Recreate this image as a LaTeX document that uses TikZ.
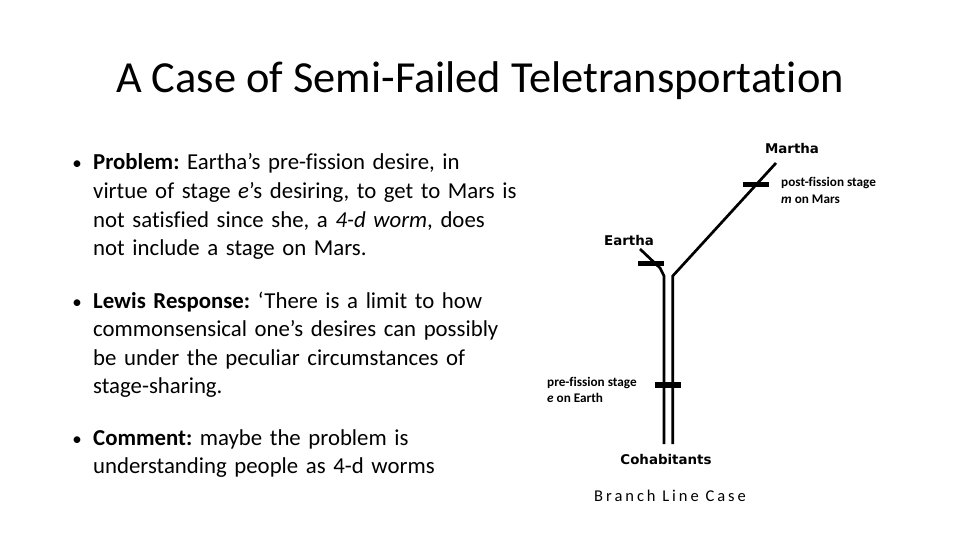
\documentclass[tikz,border=0pt]{standalone}
\usepackage{fontspec}
\setmainfont{Carlito}[Ligatures={TeX,NoCommon}]
\newfontfamily\lblfont{DejaVu Sans}
\begin{document}
\frenchspacing
\begin{tikzpicture}[x=1pt,y=-1pt,
  body/.style={anchor=base west, inner sep=0pt, align=left, text width=460pt, font=\fontsize{22.8}{28.6}\selectfont},
  bul/.style={anchor=base, inner sep=0pt, font=\fontsize{19}{24}\selectfont},
  big/.style={inner sep=0pt, font=\lblfont\bfseries\fontsize{13.4}{15}\selectfont},
  small/.style={anchor=west, inner sep=0pt, align=left, font=\bfseries\fontsize{13.2}{16.5}\selectfont},
  worm/.style={line width=2.7pt, line join=miter},
  tick/.style={fill=black, inner sep=0pt, minimum width=26pt, minimum height=5.5pt}
]
\useasboundingbox (0,0) rectangle (960,540);

\node (title) at (480,93) [anchor=base, inner sep=0pt, font=\fontsize{44.4}{50}\selectfont] {A Case of Semi-Failed Teletransportation};

\node[bul] (b1) at (77,170) {•};
\node[body] (problem) at (93,170) {\textbf{Problem:} Eartha’s pre-fission desire, in\\ virtue of stage \textit{e}’s desiring, to get to Mars is\\ not satisfied since she, a \textit{4-d worm}, does\\ not include a stage on Mars.};

\node[bul] (b2) at (77,308) {•};
\node[body] (lewis) at (93,308) {\textbf{Lewis Response:} ‘There is a limit to how\\ commonsensical one’s desires can possibly\\ be under the peculiar circumstances of\\ stage-sharing.};

\node[bul] (b3) at (77,445) {•};
\node[body] (comment) at (93,445) {\textbf{Comment:} maybe the problem is\\ understanding people as 4-d worms};

\coordinate (eTop) at (640,249);
\coordinate (eBend) at (660,268);
\coordinate (eJoin) at (664,276);
\coordinate (eBot) at (664,444);
\coordinate (mTop) at (776,163);
\coordinate (mJoin) at (672.7,276);
\coordinate (mBot) at (672.7,444);
\draw[worm] (eTop) -- (eBend) -- (eJoin) -- (eBot);
\draw[worm] (mTop) -- (mJoin) -- (mBot);

\node[tick] (eTick) at (651,263.5) {};
\node[tick] (mTick) at (755.5,184.5) {};
\node[tick] (pTick) at (668,385) {};

\node[big] (martha) at (792,149) {Martha};
\node[big] (eartha) at (629,241) {Eartha};
\node[big] (cohab) at (666,459) {Cohabitants};

\node[small] (post) at (781,190.5) {post-fission stage\\ \textit{m} on Mars};
\node[small] (pre) at (547,390) {pre-fission stage\\ \textit{e} on Earth};

\node (caption) at (670,496) [inner sep=0pt, font=\fontsize{16.5}{19}\selectfont\addfontfeatures{LetterSpace=18}] {Branch Line Case};
\end{tikzpicture}
\end{document}
